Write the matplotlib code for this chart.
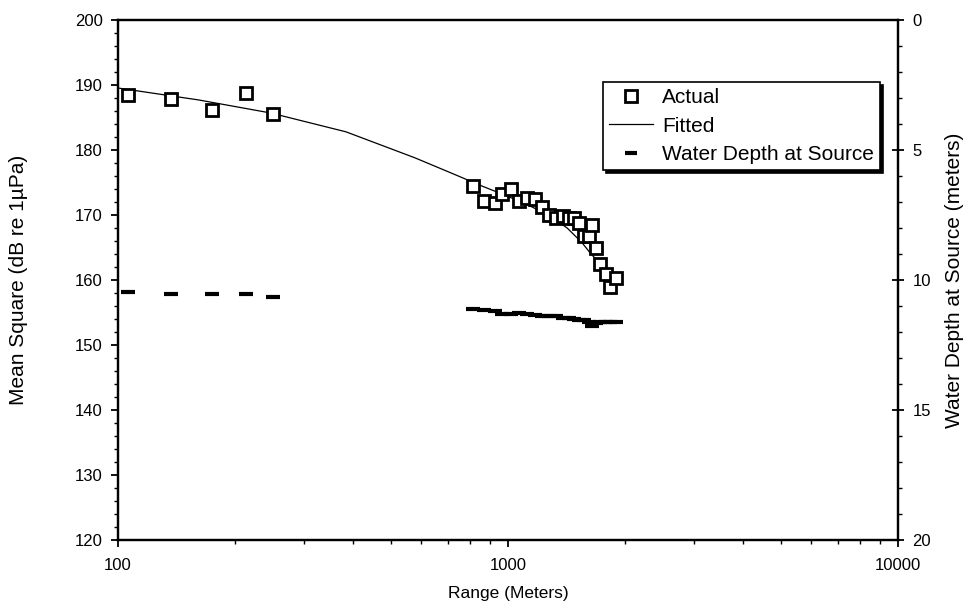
import matplotlib
matplotlib.use("Agg")
import matplotlib.pyplot as plt
from matplotlib.ticker import MultipleLocator, LogLocator, FixedLocator, NullFormatter

plt.rcParams['font.family'] = ['Liberation Sans', 'DejaVu Sans']

# Measured mean-square levels (dB re 1 uPa) versus range (m)
range_near = [106, 137, 174, 213, 250]
level_near = [188.5, 187.8, 186.2, 188.7, 185.6]

range_far = [813, 868, 926, 965, 1018, 1067, 1119, 1173, 1222, 1274, 1328, 1384,
             1434, 1476, 1521, 1566, 1613, 1642, 1681, 1722, 1783, 1826, 1892]
level_far = [174.5, 172.2, 171.8, 173.3, 174.0, 172.2, 172.6, 172.4, 171.2, 170.0,
             169.5, 169.8, 169.6, 169.5, 168.8, 166.8, 166.8, 168.5, 165.0, 162.5,
             161.0, 159.0, 160.3]

# Fitted propagation curve
fit_range = [101, 161, 246, 384, 577, 706, 862, 1006, 1156, 1300, 1418, 1545, 1633, 1693, 1892]
fit_level = [189.5, 187.7, 185.7, 182.8, 178.8, 176.6, 174.4, 172.8, 171.2, 169.6,
             168.0, 165.8, 164.0, 163.0, 160.5]

# Water depth at the source (m)
depth_near = [10.45, 10.55, 10.55, 10.55, 10.65]
depth_far = [11.10, 11.15, 11.20, 11.30, 11.30, 11.25, 11.30, 11.35, 11.40, 11.40,
             11.40, 11.45, 11.45, 11.50, 11.55, 11.55, 11.60, 11.75, 11.65, 11.60,
             11.60, 11.60, 11.60]

x_ticks = [100, 1000, 10000]
x_tick_labels = ["100", "1000", "10000"]

fig = plt.figure(figsize=(9.73, 6.11), dpi=100)
ax = fig.add_axes([118 / 973, 1 - 540 / 611, 780 / 973, 520 / 611])
ax2 = ax.twinx()

sq = dict(marker='s', markersize=8.5, markerfacecolor='white',
          markeredgecolor='black', markeredgewidth=2.0, linestyle='none')
ax.plot(range_near, level_near, **sq, zorder=4)
ax.plot(range_far, level_far, **sq, zorder=4)
ax.plot(fit_range, fit_level, color='black', linewidth=0.9, zorder=3)

dash = dict(marker='_', markersize=10, markeredgewidth=3.0, color='black', linestyle='none')
ax2.plot(range_near, depth_near, **dash)
ax2.plot(range_far, depth_far, **dash)

ax.set_xscale('log')
ax.set_xlim(100, 10000)
ax.set_ylim(120, 200)
ax2.set_ylim(20, 0)

ax.xaxis.set_major_locator(FixedLocator(x_ticks))
ax.set_xticklabels(x_tick_labels)
ax.xaxis.set_minor_locator(LogLocator(base=10, subs=range(2, 10)))
ax.xaxis.set_minor_formatter(NullFormatter())
ax.yaxis.set_major_locator(MultipleLocator(10))
ax.yaxis.set_minor_locator(MultipleLocator(2))
ax2.yaxis.set_major_locator(MultipleLocator(5))
ax2.yaxis.set_minor_locator(MultipleLocator(1))

for a in (ax, ax2):
    for s in a.spines.values():
        s.set_linewidth(1.6)
        s.set_color('black')

ax.tick_params(axis='y', which='major', direction='out', length=5, width=1.3,
               labelsize=12, pad=6)
ax.tick_params(axis='y', which='minor', direction='out', length=3, width=1.0)
ax.tick_params(axis='x', which='major', direction='out', length=5, width=1.3,
               labelsize=12, pad=8)
ax.tick_params(axis='x', which='minor', direction='out', length=3, width=1.0)
ax2.tick_params(axis='y', which='major', direction='inout', length=9, width=1.3,
                labelsize=12, pad=6)
ax2.tick_params(axis='y', which='minor', direction='out', length=3, width=1.0)

ax.set_ylabel("Mean Square (dB re 1\u00b5Pa)", fontsize=15)
ax.yaxis.set_label_coords(-0.115, 0.5)
ax.set_xlabel("Range (Meters)", fontsize=12.5)
ax.xaxis.set_label_coords(0.5, -0.088)
ax2.set_ylabel("Water Depth at Source (meters)", fontsize=15, rotation=90)
ax2.yaxis.set_label_coords(1.060, 0.5)

h_act, = ax.plot([], [], **sq)
h_fit, = ax.plot([], [], color='black', linewidth=0.9)
h_dep, = ax.plot([], [], marker='_', markersize=9, markeredgewidth=3.0,
                 color='black', linestyle='none')
leg = ax.legend([h_act, h_fit, h_dep], ["Actual", "Fitted", "Water Depth at Source"],
                loc='upper right', bbox_to_anchor=(0.977, 0.881), fontsize=15,
                frameon=True, fancybox=False, edgecolor='black', framealpha=1,
                handlelength=2.1, handletextpad=0.43, labelspacing=0.45,
                borderpad=0.3, borderaxespad=0,
                shadow={'color': 'black', 'ox': 2, 'oy': -2, 'alpha': 1})
leg.get_frame().set_linewidth(1.2)

fig.savefig("out.png", dpi=100)
